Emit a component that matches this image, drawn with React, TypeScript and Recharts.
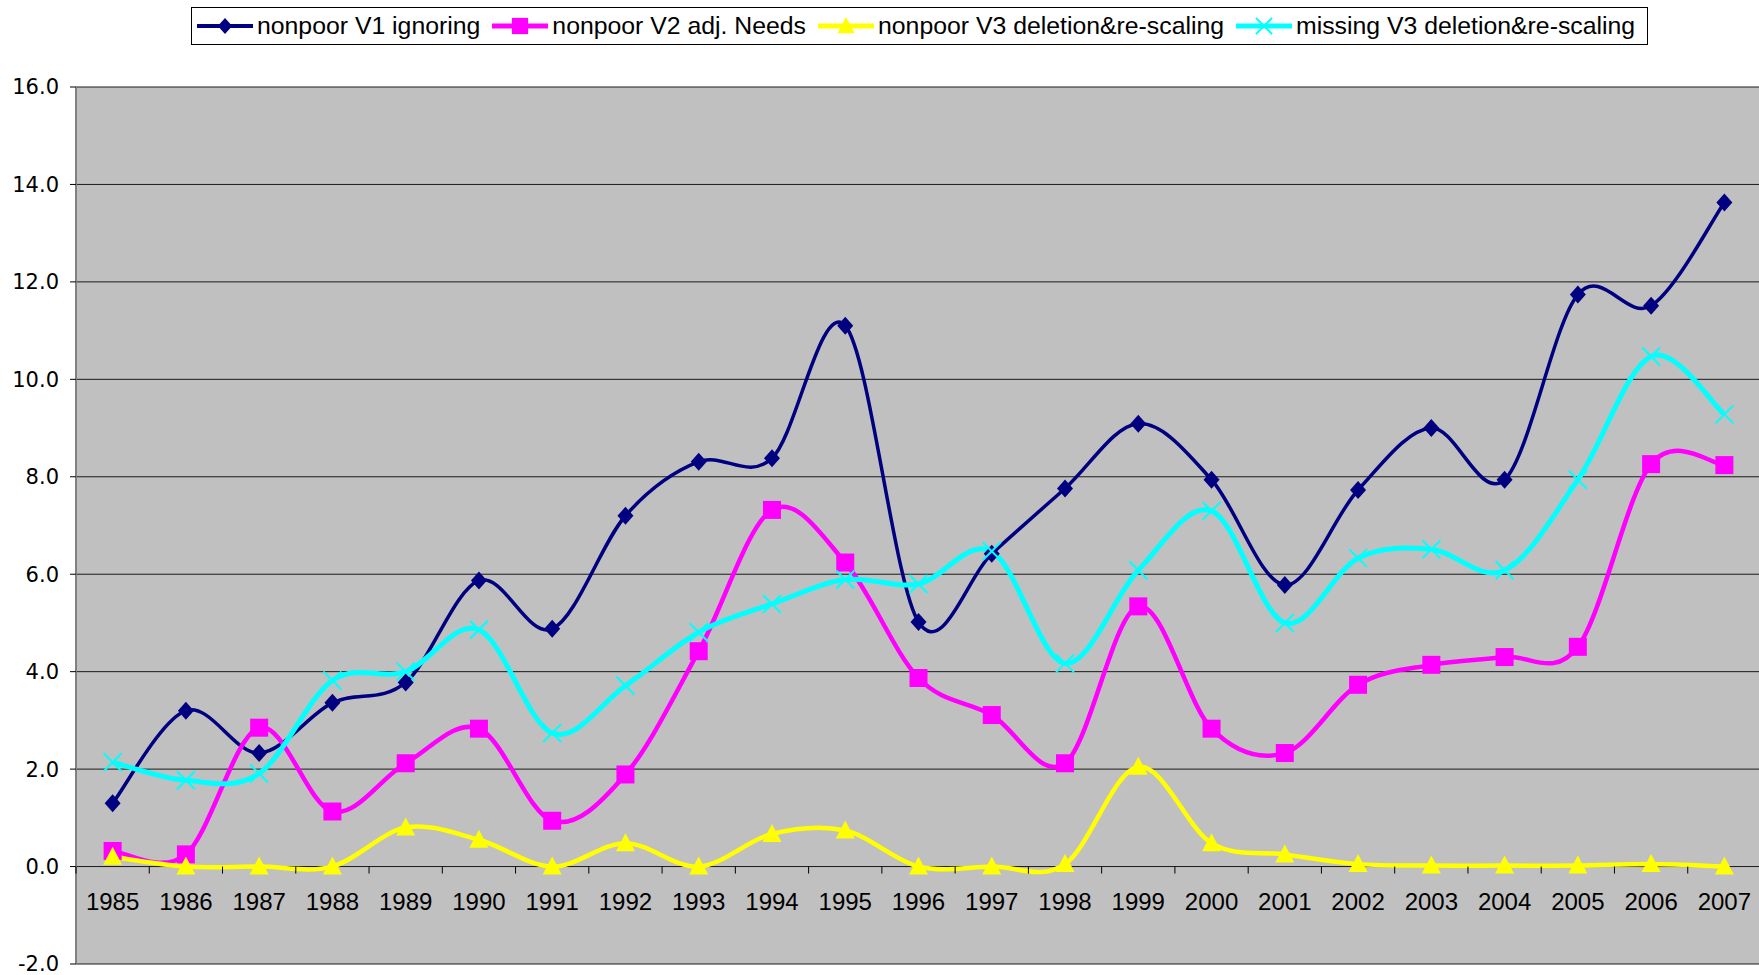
import React from 'react';
import { LineChart, Line, XAxis, YAxis, CartesianGrid } from 'recharts';

const years = ['1985', '1986', '1987', '1988', '1989', '1990', '1991', '1992', '1993', '1994', '1995', '1996',
  '1997', '1998', '1999', '2000', '2001', '2002', '2003', '2004', '2005', '2006', '2007'];

const nonpoorV1 = [1.3, 3.2, 2.33, 3.36, 3.78, 5.87, 4.88, 7.2, 8.31, 8.38, 11.1, 5.02,
  6.42, 7.76, 9.09, 7.94, 5.78, 7.73, 9.0, 7.94, 11.74, 11.51, 13.63];
const nonpoorV2 = [0.32, 0.25, 2.85, 1.13, 2.12, 2.83, 0.94, 1.89, 4.42, 7.32, 6.24, 3.87,
  3.11, 2.12, 5.34, 2.83, 2.33, 3.73, 4.14, 4.3, 4.51, 8.26, 8.24];
const nonpoorV3 = [0.2, 0, 0, 0, 0.8, 0.55, 0, 0.48, 0, 0.67, 0.74, 0,
  0, 0.05, 2.05, 0.48, 0.25, 0.05, 0.02, 0.02, 0.02, 0.05, 0.0];
const missingV3 = [2.14, 1.77, 1.91, 3.82, 4.0, 4.86, 2.74, 3.71, 4.81, 5.39, 5.89, 5.8,
  6.47, 4.17, 6.08, 7.3, 5.0, 6.33, 6.51, 6.08, 7.94, 10.47, 9.28];

const yTicks = [-2, 0, 2, 4, 6, 8, 10, 12, 14, 16];

const data = years.map((year, i) => ({
  year,
  v1: nonpoorV1[i],
  v2: nonpoorV2[i],
  v3: nonpoorV3[i],
  miss: missingV3[i],
}));

// chart geometry
const W = 1759;
const H = 975;
const TOP = 87;
const LEFT = 76;
const BOTTOM = 964;
const PLOT_RIGHT = 1761; // plot area runs a hair past the picture edge
const bandW = (PLOT_RIGHT - LEFT) / years.length;
const zeroY = TOP + (16 / 18) * (BOTTOM - TOP);

// Excel-like smoothing (Catmull-Rom style bezier)
const excelCurve = (context: any) => {
  let pts: number[][] = [];
  return {
    areaStart() {},
    areaEnd() {},
    lineStart() { pts = []; },
    point(x: number, y: number) { pts.push([+x, +y]); },
    lineEnd() {
      if (!pts.length) return;
      context.moveTo(pts[0][0], pts[0][1]);
      for (let i = 0; i < pts.length - 1; i++) {
        const p0 = pts[i - 1] || pts[i];
        const p1 = pts[i];
        const p2 = pts[i + 1];
        const p3 = pts[i + 2] || pts[i + 1];
        context.bezierCurveTo(
          p1[0] + (p2[0] - p0[0]) / 6, p1[1] + (p2[1] - p0[1]) / 6,
          p2[0] - (p3[0] - p1[0]) / 6, p2[1] - (p3[1] - p1[1]) / 6,
          p2[0], p2[1]
        );
      }
    },
  };
};

const Diamond = ({ cx, cy, s = 1 }: any) => (
  <polygon points={`${cx},${cy - 9 * s} ${cx + 8 * s},${cy} ${cx},${cy + 9 * s} ${cx - 8 * s},${cy}`} fill="#000080" />
);
const Square = ({ cx, cy, s = 1 }: any) => (
  <rect x={cx - 9 * s} y={cy - 9 * s} width={18 * s} height={18 * s} fill="#FF00FF" />
);
const Triangle = ({ cx, cy, s = 1 }: any) => (
  <polygon points={`${cx},${cy - 10 * s} ${cx + 9.5 * s},${cy + 8 * s} ${cx - 9.5 * s},${cy + 8 * s}`} fill="#FFFF00" />
);
const Cross = ({ cx, cy, s = 1 }: any) => (
  <g stroke="#00FFFF" strokeWidth={2}>
    <line x1={cx - 9 * s} y1={cy - 9 * s} x2={cx + 9 * s} y2={cy + 9 * s} />
    <line x1={cx - 9 * s} y1={cy + 9 * s} x2={cx + 9 * s} y2={cy - 9 * s} />
  </g>
);

const YearTick = ({ x, payload, index }: any) => (
  <g>
    <line x1={x - bandW / 2} y1={zeroY} x2={x - bandW / 2} y2={zeroY + 7} stroke="#000" />
    {index === years.length - 1 && (
      <line x1={x + bandW / 2} y1={zeroY} x2={x + bandW / 2} y2={zeroY + 7} stroke="#000" />
    )}
    <text x={x} y={zeroY + 37} textAnchor="middle" dominantBaseline="middle"
      fontFamily="'Liberation Sans', Arial, sans-serif" fontSize={24} fill="#000">
      {payload.value}
    </text>
  </g>
);

const legendItems = [
  { name: 'nonpoor V1 ignoring', color: '#000080', width: 4, Marker: Diamond },
  { name: 'nonpoor V2 adj. Needs', color: '#FF00FF', width: 5, Marker: Square },
  { name: 'nonpoor V3 deletion&re-scaling', color: '#FFFF00', width: 5, Marker: Triangle },
  { name: 'missing V3 deletion&re-scaling', color: '#00FFFF', width: 5, Marker: Cross },
];

const ChartLegend = () => (
  <div style={{
    position: 'absolute', left: 191, top: 7, height: 36, width: 1450,
    border: '1px solid #000', background: '#fff', display: 'flex', alignItems: 'center',
    paddingLeft: 5, boxSizing: 'content-box',
    fontFamily: "'Liberation Sans', Arial, sans-serif", fontSize: 24.8, color: '#000',
  }}>
    {legendItems.map(({ name, color, width, Marker }) => (
      <div key={name} style={{ display: 'flex', alignItems: 'center', marginRight: 12 }}>
        <svg width={56} height={30} style={{ marginRight: 4 }}>
          <line x1={0} y1={15} x2={56} y2={15} stroke={color} strokeWidth={width} />
          <Marker cx={28} cy={15} s={0.9} />
        </svg>
        <span style={{ whiteSpace: 'nowrap' }}>{name}</span>
      </div>
    ))}
  </div>
);

export default function App() {
  return (
    <div style={{ position: 'absolute', left: 0, top: 0, width: W, height: H, background: '#fff', overflow: 'hidden' }}>
      <LineChart width={PLOT_RIGHT} height={H} data={data}
        margin={{ top: TOP, right: 0, bottom: H - BOTTOM - 1, left: 0 }}>
        <CartesianGrid vertical={false} horizontal fill="#C0C0C0" stroke="#1a1a1a" strokeWidth={1} />
        <XAxis dataKey="year" height={1} axisLine={false} tickLine={false} interval={0}
          padding={{ left: bandW / 2, right: bandW / 2 }} tick={<YearTick />} />
        <YAxis width={LEFT} domain={[-2, 16]} ticks={yTicks} type="number" allowDataOverflow interval={0}
          tickFormatter={(v: number) => v.toFixed(1)}
          axisLine={{ stroke: '#808080', strokeWidth: 2 }}
          tickLine={{ stroke: '#000' }} tickSize={6} tickMargin={11}
          tick={{ fontFamily: "'DejaVu Sans', Verdana, sans-serif", fontSize: 21, fill: '#000' }} />
        <Line dataKey="v1" type={excelCurve as any} stroke="#000080" strokeWidth={3.5} isAnimationActive={false}
          dot={(p: any) => <Diamond key={`d1-${p.index}`} cx={p.cx} cy={p.cy} />} activeDot={false} />
        <Line dataKey="v2" type={excelCurve as any} stroke="#FF00FF" strokeWidth={4.5} isAnimationActive={false}
          dot={(p: any) => <Square key={`d2-${p.index}`} cx={p.cx} cy={p.cy} />} activeDot={false} />
        <Line dataKey="v3" type={excelCurve as any} stroke="#FFFF00" strokeWidth={4.5} isAnimationActive={false}
          dot={(p: any) => <Triangle key={`d3-${p.index}`} cx={p.cx} cy={p.cy} />} activeDot={false} />
        <Line dataKey="miss" type={excelCurve as any} stroke="#00FFFF" strokeWidth={5} isAnimationActive={false}
          dot={(p: any) => <Cross key={`d4-${p.index}`} cx={p.cx} cy={p.cy} />} activeDot={false} />
      </LineChart>
      <ChartLegend />
    </div>
  );
}
